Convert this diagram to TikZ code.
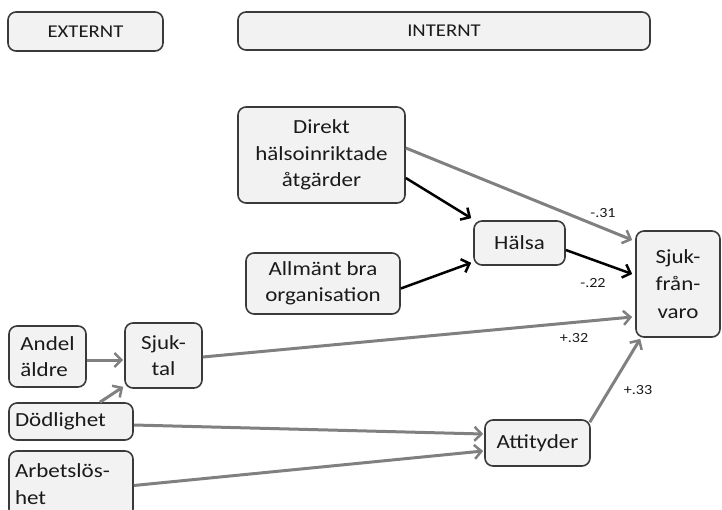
\documentclass[tikz,border=0pt]{standalone}
\usepackage{fontspec}
\setmainfont[FakeStretch=1.15]{Carlito}
\usetikzlibrary{arrows.meta}
\definecolor{boxfill}{HTML}{F2F2F2}
\definecolor{boxline}{HTML}{3A3A3A}
\definecolor{arrgray}{HTML}{808080}
\definecolor{txt}{HTML}{1A1A1A}
\tikzset{
  box/.style={draw=boxline, fill=boxfill, line width=1.6pt, rounded corners=8pt,
    inner sep=0pt, align=center, text=txt, font=\fontsize{20}{26.5}\selectfont},
  headbox/.style={box, font=\fontsize{18}{22}\selectfont},
  grayarr/.style={draw=arrgray, line width=3pt, -{Straight Barb[length=7pt,width=14pt,line width=2.5pt]}},
  blackarr/.style={draw=black, line width=2.5pt, -{Straight Barb[length=7pt,width=14pt,line width=2.5pt]}},
  lbl/.style={font=\fontsize{14}{16}\selectfont, inner sep=0pt, text=txt}
}
\begin{document}
\begin{tikzpicture}[x=1pt,y=-1pt]
\useasboundingbox (0,0) rectangle (722,510);
\clip (0,0) rectangle (722,510);
\node[headbox, minimum width=155pt, minimum height=39pt] (ext) at (85.5,31.5) {EXTERNT};
\node[headbox, minimum width=412pt, minimum height=38pt] (int) at (444,31) {INTERNT};
\node[box, minimum width=167pt, minimum height=96pt] (direkt) at (321.5,155) {Direkt\\hälsoinriktade\\åtgärder};
\node[box, minimum width=154pt, minimum height=61pt] (allm) at (323,283.5) {Allmänt bra\\organisation};
\node[box, minimum width=91pt, minimum height=44pt] (halsa) at (519.5,243) {Hälsa};
\node[box, minimum width=84pt, minimum height=106pt, font=\fontsize{20}{27.5}\selectfont] (sjukf) at (678,284) {Sjuk-\\från-\\varo};
\node[box, minimum width=77pt, minimum height=61pt, align=left] (andel) at (47.5,356.5) {Andel\\äldre};
\node[box, minimum width=77pt, minimum height=65pt] (sjuktal) at (163.5,355.5) {Sjuk-\\tal};
\node[box, minimum width=124pt, minimum height=37pt, text width=112pt, align=left] (dod) at (71,421.5) {Dödlighet};
\node[box, minimum width=124pt, minimum height=66pt, text width=112pt, align=left] (arb) at (71,484) {Arbetslös-\\het};
\node[box, minimum width=105pt, minimum height=46pt] (att) at (537.5,443) {Attityder};

\draw[grayarr] ([yshift=7pt]direkt.east) -- ([xshift=-3pt,yshift=44pt]sjukf.west);
\draw[blackarr] ([yshift=-23pt]direkt.east) -- ([xshift=-2pt,yshift=2pt]halsa.north west);
\draw[blackarr] ([yshift=-5pt]allm.east) -- ([xshift=-2pt,yshift=3pt]halsa.south west);
\draw[blackarr] ([yshift=-7pt]halsa.east) -- ([xshift=-3pt,yshift=10pt]sjukf.west);
\draw[grayarr] ([yshift=-1.5pt]sjuktal.east) -- ([xshift=-3pt,yshift=-33pt]sjukf.west);
\draw[grayarr] ([yshift=-3.5pt]andel.east) -- ([xshift=-1pt,yshift=-4.5pt]sjuktal.west);
\draw[grayarr] ([xshift=29pt]dod.north) -- ([xshift=-1pt,yshift=2pt]sjuktal.south west);
\draw[grayarr] ([yshift=-3.5pt]dod.east) -- ([xshift=-1pt,yshift=9pt]att.west);
\draw[grayarr] ([yshift=-1.5pt]arb.east) -- ([xshift=-1pt,yshift=-8pt]att.west);
\draw[grayarr] ([xshift=-1pt,yshift=-3pt]att.north east) -- ([xshift=5pt,yshift=-1pt]sjukf.south west);

\node[lbl] (l1) at (603,213) {-.31};
\node[lbl] (l2) at (593,283) {-.22};
\node[lbl] (l3) at (574,338) {+.32};
\node[lbl] (l4) at (638,390) {+.33};
\end{tikzpicture}
\end{document}
